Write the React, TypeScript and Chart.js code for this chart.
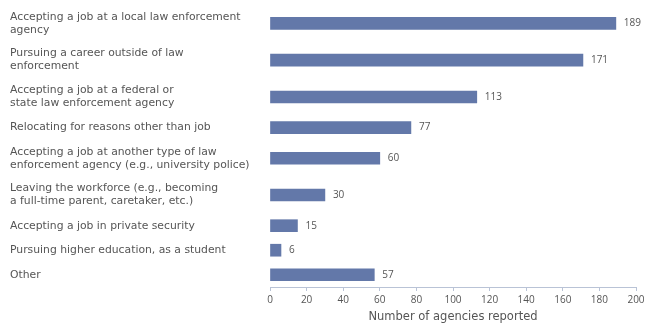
import React, { useEffect, useRef } from "react";
import { Chart, registerables } from "chart.js";

Chart.register(...registerables);

const categories: string[][] = [
  ["Accepting a job at a local law enforcement", "agency"],
  ["Pursuing a career outside of law", "enforcement"],
  ["Accepting a job at a federal or", "state law enforcement agency"],
  ["Relocating for reasons other than job"],
  ["Accepting a job at another type of law", "enforcement agency (e.g., university police)"],
  ["Leaving the workforce (e.g., becoming", "a full-time parent, caretaker, etc.)"],
  ["Accepting a job in private security"],
  ["Pursuing higher education, as a student"],
  ["Other"],
];
const values: number[] = [189, 171, 113, 77, 60, 30, 15, 6, 57];
const xTicks: number[] = [0, 20, 40, 60, 80, 100, 120, 140, 160, 180, 200];
const xTitle = "Number of agencies reported";

// Row slots: two-line labels take more room than one-line labels
const slotWeights = categories.map((c) => (c.length > 1 ? 1.5 : 1));
const totalSlots = slotWeights.reduce((a, b) => a + b, 0);
const slotCenters: number[] = [];
{
  let acc = 0;
  for (const w of slotWeights) {
    slotCenters.push(acc + w / 2);
    acc += w;
  }
}

const BAR = "#6378a9";
const TEXT = "#555555";
const FONT = "'Open Sans', 'DejaVu Sans', sans-serif";
const LABEL_FONT = "'DejaVu Sans', sans-serif";

const valueLabels = {
  id: "valueLabels",
  afterDatasetsDraw(chart: any) {
    const ctx = chart.ctx;
    const meta = chart.getDatasetMeta(0);
    ctx.save();
    ctx.fillStyle = TEXT;
    ctx.font = `10px ${FONT}`;
    ctx.textAlign = "left";
    ctx.textBaseline = "middle";
    meta.data.forEach((el: any, i: number) => {
      ctx.fillText(String(values[i]), el.x + 8, el.y);
    });
    ctx.restore();
  },
};

export default function App() {
  const ref = useRef<HTMLCanvasElement | null>(null);
  useEffect(() => {
    if (!ref.current) return;
    const chart = new Chart(ref.current, {
      type: "bar",
      data: {
        datasets: [
          {
            data: values.map((v, i) => ({ x: v, y: slotCenters[i] })),
            backgroundColor: BAR,
            borderWidth: 0,
            barThickness: 12,
          },
        ],
      },
      plugins: [valueLabels],
      options: {
        indexAxis: "y",
        animation: false,
        responsive: false,
        maintainAspectRatio: false,
        layout: { padding: { left: 10, right: 10, top: 5, bottom: 0 } },
        plugins: { legend: { display: false }, tooltip: { enabled: false } },
        scales: {
          y: {
            type: "linear",
            reverse: true,
            offset: false,
            min: 0,
            max: totalSlots,
            grid: { display: false },
            border: { display: false },
            afterBuildTicks: (scale: any) => {
              scale.ticks = slotCenters.map((v) => ({ value: v }));
            },
            afterFit: (scale: any) => {
              scale.width = 260;
              scale.paddingTop = 0;
              scale.paddingBottom = 0;
            },
            ticks: {
              crossAlign: "far",
              color: TEXT,
              font: { family: LABEL_FONT, size: 10.8, lineHeight: 1.2 },
              callback: (_v: any, i: number) => categories[i],
            },
          },
          x: {
            type: "linear",
            min: 0,
            max: 200,
            afterBuildTicks: (scale: any) => {
              scale.ticks = xTicks.map((v) => ({ value: v }));
            },
            afterFit: (scale: any) => {
              scale.height = 39;
              scale.paddingLeft = 0;
              scale.paddingRight = 0;
            },
            grid: {
              drawOnChartArea: false,
              drawTicks: true,
              tickLength: 4,
              color: "#b9c3d6",
            },
            border: { display: true, color: "#b9c3d6" },
            ticks: {
              color: TEXT,
              padding: 3,
              maxRotation: 0,
              font: { family: FONT, size: 10 },
            },
            title: {
              display: true,
              text: xTitle,
              color: TEXT,
              font: { family: LABEL_FONT, size: 11.5, lineHeight: 1.2 },
              padding: { top: 0, bottom: 2 },
            },
          },
        },
      },
    });
    return () => chart.destroy();
  }, []);
  return (
    <div style={{ position: "fixed", left: 0, top: 0, width: 646, height: 326, background: "#fff" }}>
      <canvas ref={ref} width={646} height={326} style={{ width: 646, height: 326 }} />
    </div>
  );
}
